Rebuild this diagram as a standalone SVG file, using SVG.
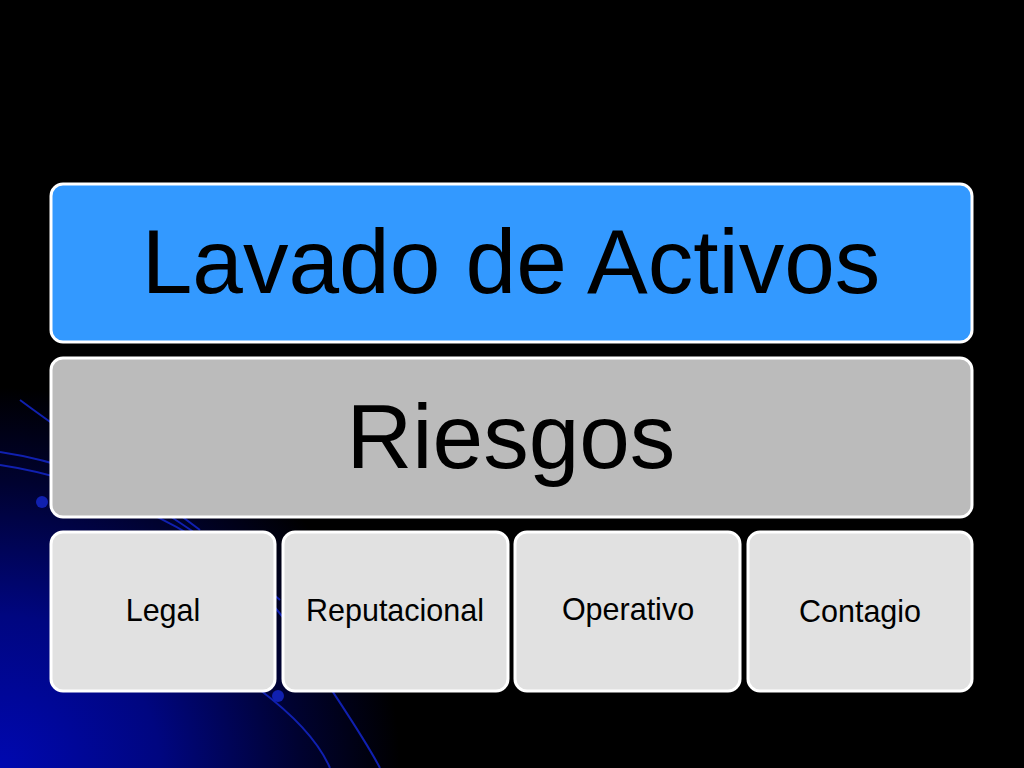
<svg xmlns="http://www.w3.org/2000/svg" width="1024" height="768" viewBox="0 0 1024 768">
<defs>
<radialGradient id="bg" cx="0" cy="768" r="400" gradientUnits="userSpaceOnUse" gradientTransform="translate(0 768) scale(1 0.95) translate(0 -768)">
<stop offset="0" stop-color="#0008b0"/>
<stop offset="0.4" stop-color="#000680"/>
<stop offset="0.75" stop-color="#000230"/>
<stop offset="1" stop-color="#000000"/>
</radialGradient>
<style>
.box{stroke:#ffffff;stroke-width:3}
.t{font-family:"Liberation Sans",Arial,sans-serif;fill:#000;text-anchor:middle}
.deco{fill:none;stroke:#1020b0;stroke-width:2}
</style>
</defs>
<rect width="1024" height="768" fill="#000"/>
<rect width="1024" height="768" fill="url(#bg)"/>
<g id="decor">
<path class="deco" d="M0 452 C120 470 230 540 300 640 C330 690 360 730 380 768"/>
<path class="deco" d="M0 465 C100 480 200 530 280 600"/>
<path class="deco" d="M20 400 C60 430 120 470 200 530"/>
<path class="deco" d="M260 690 C300 720 320 745 330 768"/>
<circle cx="42" cy="502" r="6" fill="#1020b0"/>
<circle cx="278" cy="696" r="6" fill="#1020b0"/>
</g>
<g id="n-lavado">
<rect class="box" x="51" y="184" width="921" height="158" rx="12" fill="#3399ff"/>
<text class="t" x="511" y="293" font-size="91">Lavado de Activos</text>
</g>
<g id="n-riesgos">
<rect class="box" x="51" y="358" width="921" height="159" rx="12" fill="#bbbbbb"/>
<text class="t" x="511" y="468" font-size="91">Riesgos</text>
</g>
<g id="n-legal">
<rect class="box" x="51" y="532" width="224" height="159" rx="12" fill="#e1e1e1"/>
<text class="t" x="163" y="621" font-size="30.5">Legal</text>
</g>
<g id="n-reputacional">
<rect class="box" x="283" y="532" width="225" height="159" rx="12" fill="#e1e1e1"/>
<text class="t" x="395" y="621" font-size="30.5">Reputacional</text>
</g>
<g id="n-operativo">
<rect class="box" x="515" y="532" width="225" height="159" rx="12" fill="#e1e1e1"/>
<text class="t" x="628" y="620" font-size="30.5">Operativo</text>
</g>
<g id="n-contagio">
<rect class="box" x="748" y="532" width="224" height="159" rx="12" fill="#e1e1e1"/>
<text class="t" x="860" y="622" font-size="30.5">Contagio</text>
</g>
<g id="connectors"></g>
</svg>
